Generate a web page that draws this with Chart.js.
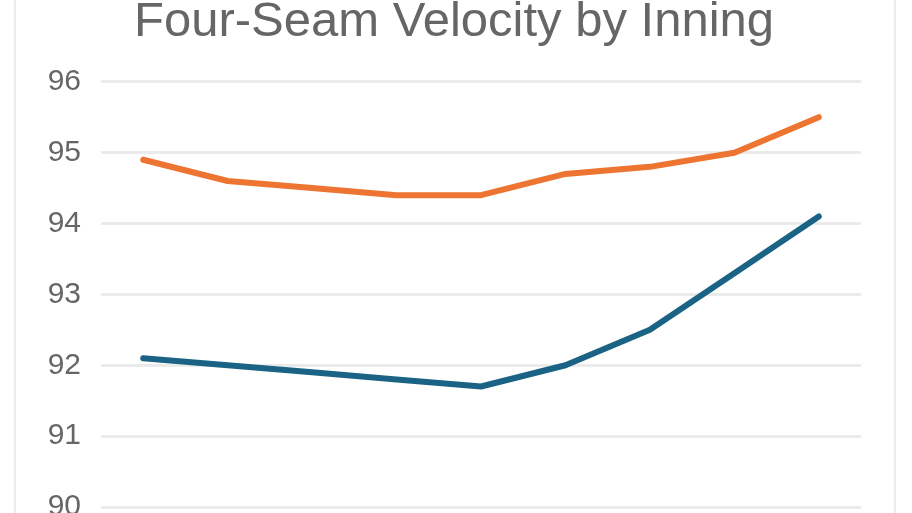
<!DOCTYPE html>
<html>
<head>
<meta charset="utf-8">
<script src="https://cdn.jsdelivr.net/npm/chart.js@4.4.0/dist/chart.umd.min.js"></script>
<style>
  html, body { margin: 0; padding: 0; background: #fff; overflow: hidden; }
  #box {
    position: absolute;
    left: 14px;
    top: -22px;
    width: 878px;
    height: 587px;
    border: 2px solid #ececec;
    background: #fff;
  }
  #chart { display: block; }
</style>
</head>
<body>
<div id="box"><canvas id="chart" width="878" height="587"></canvas></div>
<script>
const innings = ["1", "2", "3", "4", "5", "6", "7", "8", "9"];
const seriesA = [94.9, 94.6, 94.5, 94.4, 94.4, 94.7, 94.8, 95.0, 95.5];
const seriesB = [92.1, 92.0, 91.9, 91.8, 91.7, 92.0, 92.5, 93.3, 94.1];
const yTicks = [90, 91, 92, 93, 94, 95, 96];

const ctx = document.getElementById("chart").getContext("2d");
new Chart(ctx, {
  type: "line",
  data: {
    labels: innings,
    datasets: [
      {
        label: "Early",
        data: seriesA,
        borderColor: "#ed7531",
        borderWidth: 6,
        borderCapStyle: "round",
        borderJoinStyle: "round",
        pointRadius: 0,
        tension: 0,
        fill: false,
      },
      {
        label: "Late",
        data: seriesB,
        borderColor: "#1b6385",
        borderWidth: 6,
        borderCapStyle: "round",
        borderJoinStyle: "round",
        pointRadius: 0,
        tension: 0,
        fill: false,
      },
    ],
  },
  options: {
    responsive: false,
    animation: false,
    devicePixelRatio: 1,
    layout: { padding: { left: 31, right: 33, top: 0, bottom: 0 } },
    plugins: {
      legend: { display: false },
      tooltip: { enabled: false },
      title: {
        display: true,
        text: "Four-Seam Velocity by Inning",
        color: "#666",
        font: { family: "'Liberation Sans', Arial, sans-serif", size: 49, weight: "normal" },
        padding: { top: 13, bottom: 30 },
      },
    },
    scales: {
      x: {
        offset: true,
        grid: { display: false },
        border: { display: false },
        ticks: { color: "#666", font: { family: "'Liberation Sans', Arial, sans-serif", size: 30 } },
        afterFit: (scale) => { scale.height = 60; },
      },
      y: {
        min: yTicks[0],
        max: yTicks[yTicks.length - 1],
        afterBuildTicks: (scale) => { scale.ticks = yTicks.map((v) => ({ value: v })); },
        grid: { color: "#ebebeb", lineWidth: 3, drawTicks: false },
        border: { display: false },
        ticks: {
          color: "#666",
          padding: 20,
          font: { family: "'Liberation Sans', Arial, sans-serif", size: 30 },
        },
        afterFit: (scale) => { scale.width = 54; },
      },
    },
  },
});
</script>
</body>
</html>
